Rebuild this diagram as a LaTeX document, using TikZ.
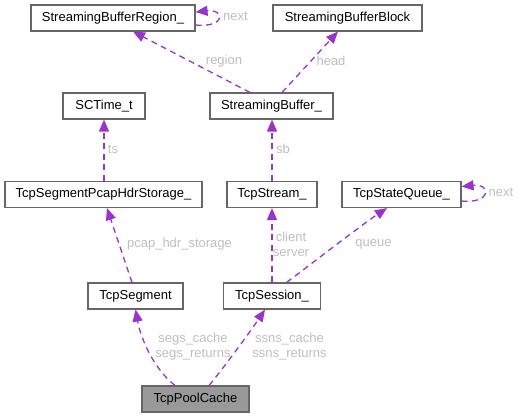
\documentclass[tikz,border=0pt]{standalone}
\usepackage{fontspec}
\setmainfont{Liberation Sans}
\usetikzlibrary{arrows.meta,calc}
\definecolor{edgec}{HTML}{9A32CD}
\definecolor{boxc}{HTML}{666666}
\definecolor{labc}{HTML}{BEBEBE}
\definecolor{mainfill}{HTML}{999999}
\tikzset{
  cls/.style={draw=boxc, fill=white, line width=1.1bp, minimum height=26bp, inner sep=0pt,
    font=\fontsize{13bp}{15bp}\selectfont, text=black},
  rel/.style={draw=edgec, line width=1.3bp, dash pattern=on 6bp off 4.5bp,
    -{Triangle[length=12bp,width=10bp,fill=edgec]}},
  lab/.style={text=labc, font=\fontsize{13bp}{15bp}\selectfont, inner sep=0pt, align=center},
}
\begin{document}
\begin{tikzpicture}[x=1bp,y=-1bp]
\useasboundingbox (0,0) rectangle (519,417);
% nodes
\node[cls, minimum width=164bp] (sbr) at (113,18) {StreamingBufferRegion\_};
\node[cls, minimum width=149bp] (sbb) at (347.5,18) {StreamingBufferBlock};
\node[cls, minimum width=82bp] (sct) at (104,106) {SCTime\_t};
\node[cls, minimum width=123bp] (sb) at (271.5,106) {StreamingBuffer\_};
\node[cls, minimum width=197bp] (tsphs) at (103.5,194.5) {TcpSegmentPcapHdrStorage\_};
\node[cls, minimum width=90bp] (ts) at (272,194.5) {TcpStream\_};
\node[cls, minimum width=119bp] (tsq) at (401.5,194.5) {TcpStateQueue\_};
\node[cls, minimum width=95bp] (tseg) at (135.5,296) {TcpSegment};
\node[cls, minimum width=97bp] (tsess) at (272,296) {TcpSession\_};
\node[cls, minimum width=107bp, fill=mainfill] (tpc) at (195.5,399) {TcpPoolCache};
% edges
\draw[rel] ($(sbr.east)+(0,7)$) .. controls +(30,3) and +(30,-3) .. ($(sbr.east)+(0,-6)$);
\draw[rel] ($(sb.north)+(-21.5,0)$) -- ($(sbr.south)+(20,0)$);
\draw[rel] ($(sb.north)+(10.5,0)$) -- ($(sbb.south)+(-9.5,0)$);
\draw[rel] (tsphs.north -| sct.south) -- (sct.south);
\draw[rel] (ts.north) -- (ts.north |- sb.south);
\draw[rel] ($(tsq.east)+(0,6.5)$) .. controls +(30,3) and +(30,-3) .. ($(tsq.east)+(0,-8)$);
\draw[rel] ($(tseg.north)+(-3.5,0)$) -- ($(tsphs.south)+(3.5,0)$);
\draw[rel] (tsess.north) -- (ts.south);
\draw[rel] ($(tsess.north)+(14.5,0)$) .. controls (310,265) and (360,226) .. ($(tsq.south)+(-14.5,0)$);
\draw[rel] ($(tpc.north)+(-20.5,0)$) .. controls (155,370) and (141,340) .. (tseg.south);
\draw[rel] ($(tpc.north)+(13.5,0)$) .. controls (222,370) and (250,332) .. ($(tsess.south)+(-7,0)$);
% labels
\node[lab] (lnext1) at (235.5,16) {next};
\node[lab] (lregion) at (224,61) {region};
\node[lab] (lhead) at (331,61) {head};
\node[lab] (lts) at (113,149) {ts};
\node[lab] (lsb) at (283,149) {sb};
\node[lab] (lnext2) at (501,192) {next};
\node[lab] (lpcap) at (179.5,244) {pcap\_hdr\_storage};
\node[lab] (lcs) at (291,244) {client\\server};
\node[lab] (lqueue) at (373.5,244) {queue};
\node[lab] (lsegs) at (193,347) {segs\_cache\\segs\_returns};
\node[lab] (lssns) at (289.5,347) {ssns\_cache\\ssns\_returns};
\end{tikzpicture}
\end{document}
